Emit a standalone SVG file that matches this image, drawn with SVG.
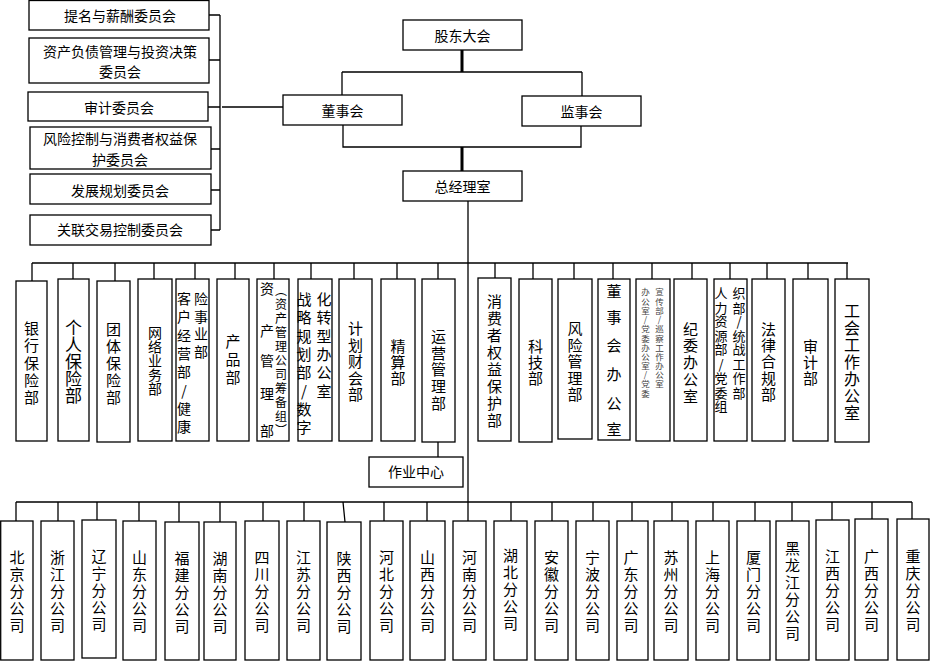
<svg xmlns="http://www.w3.org/2000/svg" width="930" height="661" viewBox="0 0 930 661">
<style>
.b{fill:#fff;stroke:#000;stroke-width:1.3}
.c{fill:none;stroke:#000;stroke-width:1.3}
.k{fill:none;stroke:#000;stroke-width:3}
text{font-family:"Noto Sans CJK SC","Noto Sans",sans-serif;fill:#000;text-anchor:middle;dominant-baseline:central}
.h{font-size:14px}
.v{font-size:15px}
</style>
<rect width="930" height="661" fill="#fff"/>
<g id="connectors">
<path class="k" d="M462,50V72M462,147V171"/>
<path class="c" d="M342,72H582M342,72V95M582,72V96M343,125V147H581V126M468,201V502"/>
<path class="c" d="M220,15V230M209,15H220M209,60H220M208,107H220M211,149H220M211,190H220M211,230H220M222,107H283"/>
<path class="c" d="M32,263H848M32,263V281M73,263V279M115,263V281M154,263V279M195,263V279M235,263V279M274,263V279M311,263V279M354,263V279M397,263V279M438,263V279M495,263V278M533,263V279M574,263V279M613,263V279M652,263V279M692,263V279M730,263V279M767,263V279M808,263V279M847,263V279"/>
<path class="c" d="M438,442V457"/>
<path class="c" d="M16,502H912M16,502V521M58,502V521M97,502V520M139,502V521M179,502V522M220,502V522M263,502V521M304,502V521M343,502L345,522M384,502V521M427,502V521M468,502V521M511,502V521M552,502V521M593,502V521M632,502V521M672,502V521M713,502V521M755,502V521M792,502V521M832,502V520M872,502V519M912,502V519"/>
</g>
<g id="gudong"><rect class="b" x="403" y="20" width="119" height="30"/><text class="h" x="462.5" y="35">股东大会</text></g>
<g id="dongshi"><rect class="b" x="283" y="95" width="119" height="30"/><text class="h" x="342.5" y="110">董事会</text></g>
<g id="jianshi"><rect class="b" x="522" y="96" width="119" height="30"/><text class="h" x="581.5" y="111">监事会</text></g>
<g id="zongjingli"><rect class="b" x="403" y="171" width="119" height="30"/><text class="h" x="462.5" y="186">总经理室</text></g>
<g id="c1"><rect class="b" x="29" y="0.5" width="180" height="29.5"/><text class="h" x="120" y="15">提名与薪酬委员会</text></g>
<g id="c2"><rect class="b" x="29" y="38" width="180" height="45"/><text class="h"><tspan x="120" y="50.5">资产负债管理与投资决策</tspan><tspan x="120" y="71">委员会</tspan></text></g>
<g id="c3"><rect class="b" x="28" y="92" width="180" height="29"/><text class="h" x="119" y="107">审计委员会</text></g>
<g id="c4"><rect class="b" x="30" y="127" width="181" height="42"/><text class="h"><tspan x="120" y="138">风险控制与消费者权益保</tspan><tspan x="120" y="158.5">护委员会</tspan></text></g>
<g id="c5"><rect class="b" x="30" y="174" width="181" height="30"/><text class="h" x="120" y="190">发展规划委员会</text></g>
<g id="c6"><rect class="b" x="30" y="215" width="181" height="30"/><text class="h" x="120" y="229">关联交易控制委员会</text></g>
<g id="zuoye"><rect class="b" x="369" y="457" width="94" height="30"/><text class="h" x="416" y="471">作业中心</text></g>
<g id="d1"><rect class="b" x="16" y="281" width="31" height="160"/><text class="v" x="31.5 31.5 31.5 31.5 31.5" y="327 344 362 379 396">银行保险部</text></g>
<g id="d2"><rect class="b" x="58" y="279" width="31" height="162"/><text style="font-size:17px" x="73.5 73.5 73.5 73.5 73.5" y="326 343 360 377 394">个人保险部</text></g>
<g id="d3"><rect class="b" x="97" y="281" width="33" height="161"/><text class="v" x="113.5 113.5 113.5 113.5 113.5" y="328 345 362 379 396">团体保险部</text></g>
<g id="d4"><rect class="b" x="138" y="279" width="34" height="162"/><text class="h" x="155 155 155 155 155" y="332 346 360 374 388">网络业务部</text></g>
<g id="d5"><rect class="b" x="176" y="279" width="33" height="162"/><text class="h" x="184 184 184 184 184 184 184 184 201 201 201 201" y="298 316 335 353 371 390 408 426 298 316 333 351">客户经营部/健康险事业部</text></g>
<g id="d6"><rect class="b" x="217" y="279" width="32" height="162"/><text class="v" x="233 233 233" y="340 358 376">产品部</text></g>
<g id="d7"><rect class="b" x="257" y="279" width="32" height="162"/><text class="h" x="267 267 267 267 267" y="288 330 360 393 430">资产管理部</text><text style="font-size:12px;writing-mode:vertical-rl;text-anchor:start;letter-spacing:2px" x="281" y="284">（资产管理公司筹备组）</text></g>
<g id="d8"><rect class="b" x="298" y="279" width="34" height="162"/><text class="v" x="304 304 304 304 304 304 304 304 324 324 324 324 324 324" y="298 316 335 353 371 390 408 426 298 316 335 353 371 390">战略规划部/数字化转型办公室</text></g>
<g id="d9"><rect class="b" x="339" y="279" width="33" height="162"/><text class="v" x="355.5 355.5 355.5 355.5 355.5" y="327 344 360 377 393">计划财会部</text></g>
<g id="d10"><rect class="b" x="381" y="279" width="34" height="162"/><text class="v" x="398 398 398" y="345 361 377">精算部</text></g>
<g id="d11"><rect class="b" x="422" y="279" width="33" height="163"/><text class="v" x="438.5 438.5 438.5 438.5 438.5" y="335 352 368 385 402">运营管理部</text></g>
<g id="d12"><rect class="b" x="478" y="278" width="33" height="163"/><text class="v" x="494.5 494.5 494.5 494.5 494.5 494.5 494.5 494.5" y="300 317 334 351 368 385 402 419">消费者权益保护部</text></g>
<g id="d13"><rect class="b" x="519" y="279" width="33" height="163"/><text class="v" x="535.5 535.5 535.5" y="345 361 377">科技部</text></g>
<g id="d14"><rect class="b" x="558" y="279" width="34" height="160"/><text class="v" x="575 575 575 575 575" y="327 344 360 377 393">风险管理部</text></g>
<g id="d15"><rect class="b" x="598" y="279" width="32" height="161"/><text class="v" x="614 614 614 614 614 614" y="290 316 344 373 402 428">董事会办公室</text></g>
<g id="d16"><rect class="b" x="636" y="279" width="34" height="162"/><text style="font-size:8.5px;fill:#444" x="645.5 645.5 645.5 645.5 645.5 645.5 645.5 645.5 645.5 645.5 645.5 645.5 659.5 659.5 659.5 659.5 659.5 659.5 659.5 659.5 659.5 659.5 659.5" y="291 300.5 310 319 328 337.5 347 356 365 374 383 393 291 300.5 310 319 328 337.5 347 356 365 374 383">办公室/党委办公室/党委宣传部/巡察工作办公室</text></g>
<g id="d17"><rect class="b" x="674" y="279" width="33" height="162"/><text class="v" x="690.5 690.5 690.5 690.5 690.5" y="328 344 361 378 395">纪委办公室</text></g>
<g id="d18"><rect class="b" x="714" y="279" width="33" height="162"/><text style="font-size:13px" x="721 721 721 721 721 721 721 721 721 739 739 739 739 739 739 739 739" y="292 307 320 335 348 363 377 392 405 292 307 320 335 348 363 377 392">人力资源部/党委组织部/统战工作部</text></g>
<g id="d19"><rect class="b" x="752" y="279" width="33" height="162"/><text class="v" x="768.5 768.5 768.5 768.5 768.5" y="328 344 360 377 393">法律合规部</text></g>
<g id="d20"><rect class="b" x="793" y="279" width="35" height="162"/><text class="v" x="810.5 810.5 810.5" y="345 361 377">审计部</text></g>
<g id="d21"><rect class="b" x="835" y="279" width="34" height="163"/><text style="font-size:16px" x="852 852 852 852 852 852 852" y="310 327 344 361 378 395 412">工会工作办公室</text></g>
<g id="f1"><rect class="b" x="0.7" y="521" width="32.3" height="139"/><text class="v" x="17 17 17 17 17" y="556 573 590 607 624">北京分公司</text></g>
<g id="f2"><rect class="b" x="41" y="521" width="33" height="139"/><text class="v" x="57.5 57.5 57.5 57.5 57.5" y="556 573 590 607 624">浙江分公司</text></g>
<g id="f3"><rect class="b" x="82" y="520" width="34" height="138"/><text class="v" x="99 99 99 99 99" y="555 572 589 606 623">辽宁分公司</text></g>
<g id="f4"><rect class="b" x="123" y="521" width="33" height="139"/><text class="v" x="139.5 139.5 139.5 139.5 139.5" y="556 573 590 607 624">山东分公司</text></g>
<g id="f5"><rect class="b" x="165" y="522" width="34" height="138"/><text class="v" x="182 182 182 182 182" y="557 574 591 608 625">福建分公司</text></g>
<g id="f6"><rect class="b" x="204" y="522" width="32" height="138"/><text class="v" x="220 220 220 220 220" y="557 574 591 608 625">湖南分公司</text></g>
<g id="f7"><rect class="b" x="245" y="521" width="34" height="139"/><text class="v" x="262 262 262 262 262" y="556 573 590 607 624">四川分公司</text></g>
<g id="f8"><rect class="b" x="287" y="521" width="33" height="139"/><text class="v" x="303.5 303.5 303.5 303.5 303.5" y="556 573 590 607 624">江苏分公司</text></g>
<g id="f9"><rect class="b" x="327" y="522" width="34" height="138"/><text class="v" x="344 344 344 344 344" y="557 574 591 608 625">陕西分公司</text></g>
<g id="f10"><rect class="b" x="370" y="521" width="33" height="139"/><text class="v" x="386.5 386.5 386.5 386.5 386.5" y="556 573 590 607 624">河北分公司</text></g>
<g id="f11"><rect class="b" x="410" y="521" width="35" height="139"/><text class="v" x="427.5 427.5 427.5 427.5 427.5" y="556 573 590 607 624">山西分公司</text></g>
<g id="f12"><rect class="b" x="453" y="521" width="33" height="139"/><text class="v" x="469.5 469.5 469.5 469.5 469.5" y="556 573 590 607 624">河南分公司</text></g>
<g id="f13"><rect class="b" x="494" y="521" width="33" height="139"/><text class="v" x="510.5 510.5 510.5 510.5 510.5" y="554 571 588 605 622">湖北分公司</text></g>
<g id="f14"><rect class="b" x="535" y="521" width="33" height="139"/><text class="v" x="551.5 551.5 551.5 551.5 551.5" y="556 573 590 607 624">安徽分公司</text></g>
<g id="f15"><rect class="b" x="576" y="521" width="33" height="139"/><text class="v" x="592.5 592.5 592.5 592.5 592.5" y="556 573 590 607 624">宁波分公司</text></g>
<g id="f16"><rect class="b" x="617" y="521" width="31" height="139"/><text class="v" x="631 631 631 631 631" y="556 573 590 607 624">广东分公司</text></g>
<g id="f17"><rect class="b" x="654" y="521" width="34" height="139"/><text class="v" x="671 671 671 671 671" y="556 573 590 607 624">苏州分公司</text></g>
<g id="f18"><rect class="b" x="696" y="521" width="33" height="139"/><text class="v" x="712.5 712.5 712.5 712.5 712.5" y="556 573 590 607 624">上海分公司</text></g>
<g id="f19"><rect class="b" x="737" y="521" width="33" height="139"/><text class="v" x="753.5 753.5 753.5 753.5 753.5" y="556 573 590 607 624">厦门分公司</text></g>
<g id="f20"><rect class="b" x="776" y="521" width="33" height="139"/><text class="v" x="792.5 792.5 792.5 792.5 792.5 792.5" y="547 564 581 598 615 632">黑龙江分公司</text></g>
<g id="f21"><rect class="b" x="816" y="520" width="33" height="140"/><text class="v" x="832.5 832.5 832.5 832.5 832.5" y="555 572 589 606 623">江西分公司</text></g>
<g id="f22"><rect class="b" x="855" y="519" width="33" height="141"/><text class="v" x="871.5 871.5 871.5 871.5 871.5" y="555 572 589 606 623">广西分公司</text></g>
<g id="f23"><rect class="b" x="897" y="519" width="32" height="141"/><text class="v" x="913 913 913 913 913" y="555 572 589 606 623">重庆分公司</text></g>
</svg>
